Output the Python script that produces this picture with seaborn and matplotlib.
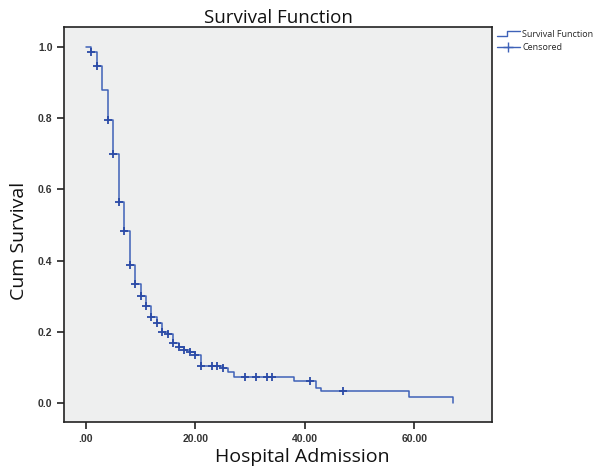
import matplotlib
matplotlib.use("Agg")
import matplotlib.pyplot as plt
import seaborn as sns
import pandas as pd
from matplotlib.lines import Line2D
from matplotlib.legend_handler import HandlerBase

# Kaplan-Meier steps (time, cumulative survival after the step)
step_times = [0, 1, 2, 3, 4, 5, 6, 7, 8, 9, 10, 11, 12, 13, 14, 15, 16, 17,
              18, 19, 20, 21, 25, 26, 27, 38, 42, 43, 59, 67]
step_surv = [1.0, 0.987, 0.948, 0.879, 0.794, 0.700, 0.566, 0.482, 0.388,
             0.333, 0.301, 0.271, 0.240, 0.225, 0.199, 0.193, 0.167, 0.156,
             0.149, 0.143, 0.134, 0.104, 0.097, 0.087, 0.073, 0.0625, 0.043,
             0.032, 0.017, 0.0]

# censored cases
cens_times = [1, 2, 4, 5, 6, 7, 8, 9, 10, 11, 12, 13, 14, 15, 16, 17, 18, 19,
              20, 21, 23, 24, 25, 29, 31, 33, 34, 41, 47]
cens_surv = [0.987, 0.948, 0.794, 0.700, 0.566, 0.482, 0.388, 0.333, 0.301,
             0.271, 0.240, 0.225, 0.199, 0.193, 0.167, 0.156, 0.149, 0.143,
             0.134, 0.104, 0.104, 0.104, 0.097, 0.073, 0.073, 0.073, 0.073,
             0.0625, 0.032]

x_ticks = [0, 20, 40, 60]
x_tick_labels = [".00", "20.00", "40.00", "60.00"]
y_ticks = [0.0, 0.2, 0.4, 0.6, 0.8, 1.0]
y_tick_labels = ["0.0", "0.2", "0.4", "0.6", "0.8", "1.0"]

LINE_COLOR = "#3f62b8"
MARK_COLOR = "#2b4aa6"

sns.set_style("white", {"axes.facecolor": "#eeefef", "axes.edgecolor": "#222222"})
plt.rcParams['font.family'] = ['Open Sans', 'DejaVu Sans']


class StepHandler(HandlerBase):
    """Legend icon drawn as a small step, like SPSS does."""
    def create_artists(self, legend, orig_handle, xdescent, ydescent,
                       width, height, fontsize, trans):
        xs = [0, width * 0.45, width * 0.45, width]
        ys = [height * 0.1, height * 0.1, height * 0.9, height * 0.9]
        line = Line2D([x - xdescent for x in xs], [y - ydescent for y in ys],
                      color=LINE_COLOR, lw=1.0, transform=trans)
        return [line]


steps = pd.DataFrame({"time": step_times, "surv": step_surv})
cens = pd.DataFrame({"time": cens_times, "surv": cens_surv})

fig = plt.figure(figsize=(5.96, 4.73), dpi=100)
ax = fig.add_axes([0.108, 0.107, 0.718, 0.836])

sns.lineplot(data=steps, x="time", y="surv", ax=ax, estimator=None,
             drawstyle="steps-post", color=LINE_COLOR, linewidth=1.1)
sns.scatterplot(data=cens, x="time", y="surv", ax=ax, marker="+",
                color=MARK_COLOR, s=32, linewidth=1.3, zorder=3)

ax.set_xlim(-3.9, 74.2)
ax.set_ylim(-0.055, 1.057)
ax.set_xticks(x_ticks)
ax.set_xticklabels(x_tick_labels)
ax.set_yticks(y_ticks)
ax.set_yticklabels(y_tick_labels)
ax.tick_params(axis="both", direction="out", length=5, width=1.2,
               colors="#222222", labelsize=7.5, labelcolor="#333333", bottom=True, left=True)
for lab in ax.get_xticklabels() + ax.get_yticklabels():
    lab.set_family("Liberation Sans")
    lab.set_fontweight("bold")

for side in ["left", "bottom", "right", "top"]:
    ax.spines[side].set_linewidth(1.2)

ax.set_xlabel("Hospital Admission", fontsize=14, color="#111111")
ax.set_ylabel("Cum Survival", fontsize=14, color="#111111")
ax.xaxis.set_label_coords(0.556, -0.065)
ax.yaxis.set_label_coords(-0.085, 0.46)
ax.set_title("Survival Function", fontsize=13.5, color="#111111", pad=3)

handles = [Line2D([], [], color=LINE_COLOR),
           Line2D([], [], color=LINE_COLOR, marker="+", markersize=7, lw=1.0)]
leg = fig.legend(handles, ["Survival Function", "Censored"],
                 handler_map={handles[0]: StepHandler()},
                 loc="upper left", bbox_to_anchor=(0.828, 0.945),
                 frameon=False, prop={"family": "Open Sans", "size": 6.5},
                 handlelength=2.5, handletextpad=0.3, labelspacing=0.45,
                 borderaxespad=0)

fig.savefig("out.png", dpi=100)
